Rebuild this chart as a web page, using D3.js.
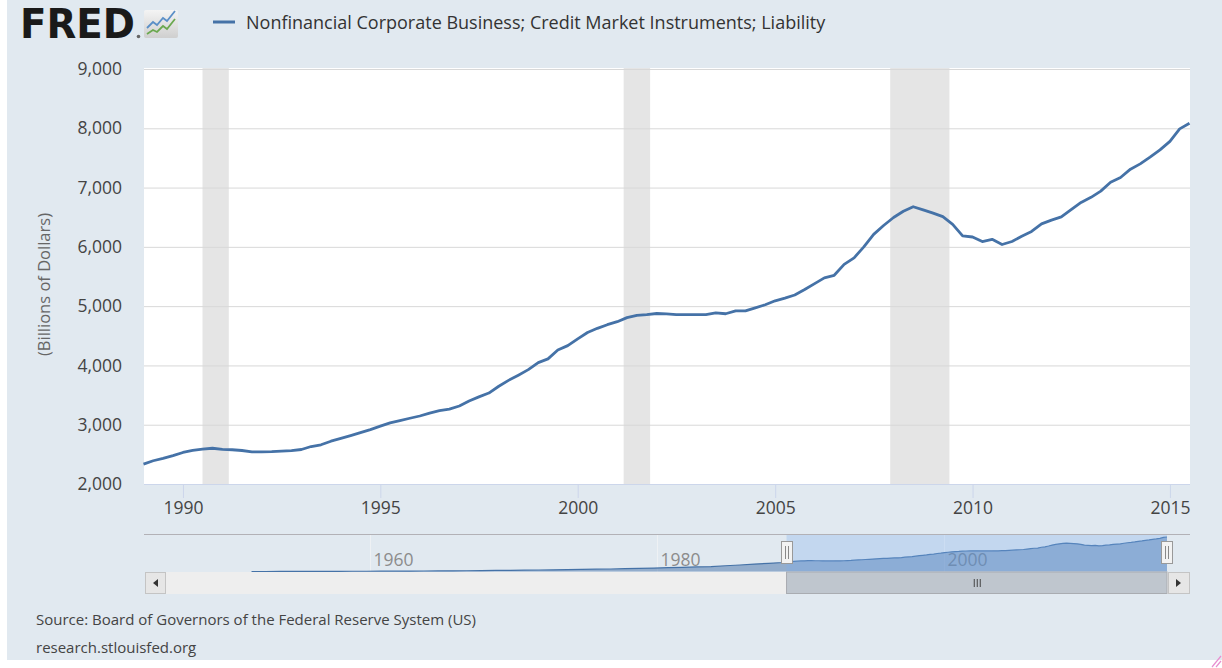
<!DOCTYPE html>
<html>
<head>
<meta charset="utf-8">
<script src="https://cdn.jsdelivr.net/npm/d3@7"></script>
<style>
	body { margin: 0; background: #fff; }
	svg { display: block; font-family: "Open Sans", sans-serif; }
</style>
</head>
<body>
<div id="chart"></div>
<script>
const SERIES_NAME = 'Nonfinancial Corporate Business; Credit Market Instruments; Liability';
const Y_LABEL = '(Billions of Dollars)';
const SOURCE_TEXT = 'Source: Board of Governors of the Federal Reserve System (US)';
const SITE_TEXT = 'research.stlouisfed.org';

// quarterly values, 1989 Q1 .. 2015 Q3 (billions of dollars)
const FIRST_QUARTER = '1989-01-01';
const liability = [
	2335, 2392, 2431, 2478, 2532, 2566, 2590, 2603, 2584, 2578,
	2565, 2542, 2543, 2546, 2554, 2563, 2582, 2632, 2662, 2722,
	2770, 2816, 2866, 2918, 2975, 3031, 3070, 3109, 3147, 3197,
	3237, 3262, 3315, 3400, 3470, 3534, 3649, 3748, 3836, 3929,
	4048, 4110, 4260, 4334, 4448, 4555, 4626, 4687, 4738, 4807,
	4846, 4858, 4876, 4871, 4856, 4856, 4858, 4858, 4886, 4872,
	4920, 4921, 4972, 5023, 5090, 5136, 5188, 5280, 5380, 5477,
	5520, 5705, 5815, 6000, 6210, 6360, 6495, 6600, 6677, 6625,
	6570, 6510, 6380, 6185, 6166, 6090, 6127, 6040, 6090, 6180,
	6260, 6388, 6450, 6506, 6630, 6750, 6835, 6940, 7090, 7170,
	7310, 7400, 7513, 7635, 7780, 7990, 8085
];

// earlier history, only seen in the navigator (4th quarter of each year)
const historyYears = [
	1951, 1952, 1953, 1954, 1955, 1956, 1957, 1958, 1959, 1960,
	1961, 1962, 1963, 1964, 1965, 1966, 1967, 1968, 1969, 1970,
	1971, 1972, 1973, 1974, 1975, 1976, 1977, 1978, 1979, 1980,
	1981, 1982, 1983, 1984, 1985, 1986, 1987, 1988
];
const historyValues = [
	90, 95, 99, 103, 113, 123, 134, 143, 153, 163,
	175, 188, 202, 218, 242, 268, 299, 335, 373, 405,
	442, 485, 540, 600, 620, 668, 736, 810, 888, 965,
	1068, 1142, 1240, 1425, 1600, 1805, 1975, 2175
];

const recessions = [
	['1990-07-01', '1991-03-01'],
	['2001-03-01', '2001-11-01'],
	['2007-12-01', '2009-06-01']
];

const yTicks = [2000, 3000, 4000, 5000, 6000, 7000, 8000, 9000];
const xTickYears = [1990, 1995, 2000, 2005, 2010, 2015];
const navTickYears = [1960, 1980, 2000];

const WIDTH = 1222, HEIGHT = 668;
const PLOT = { LEFT: 144, RIGHT: 1190, TOP: 69, BOTTOM: 484 };
const NAV = { LEFT: 165.4, RIGHT: 1167, TOP: 535, BOTTOM: 571.5 };
const LINE_COLOR = '#4572a7';

const parse = d3.timeParse('%Y-%m-%d');
const start = parse(FIRST_QUARTER);
const mainData = liability.map((v, i) => ({ date: d3.timeMonth.offset(start, i * 3), value: v }));
const navData = historyYears.map((y, i) => ({ date: new Date(y, 9, 1), value: historyValues[i] }))
	.concat(mainData);

const svg = d3.select('#chart').append('svg')
	.attr('width', WIDTH)
	.attr('height', HEIGHT);

// panel background
svg.append('rect')
	.attr('x', 7).attr('y', 0)
	.attr('width', WIDTH - 7).attr('height', 660)
	.attr('fill', '#e1e9f0');

// ---- header: logo + legend
const logo = svg.append('g');
logo.append('text')
	.attr('x', 20).attr('y', 38)
	.attr('font-family', '"DejaVu Sans", sans-serif')
	.attr('font-weight', 'bold')
	.attr('font-size', 41)
	.attr('textLength', 115)
	.attr('lengthAdjust', 'spacingAndGlyphs')
	.attr('fill', '#1a1a1a')
	.text('FRED');
logo.append('circle').attr('cx', 138.5).attr('cy', 36.5).attr('r', 1.8).attr('fill', '#666');
const grad = svg.append('defs').append('linearGradient')
	.attr('id', 'logoBg').attr('x1', 0).attr('y1', 0).attr('x2', 0).attr('y2', 1);
grad.append('stop').attr('offset', '0%').attr('stop-color', '#f4f4f4');
grad.append('stop').attr('offset', '100%').attr('stop-color', '#cfcfcf');
logo.append('rect')
	.attr('x', 144).attr('y', 10).attr('width', 34).attr('height', 28)
	.attr('rx', 2).attr('fill', 'url(#logoBg)');
logo.append('path')
	.attr('d', 'M147,28 L153,22 L157,25 L163,18 L167,21 L175,11')
	.attr('fill', 'none').attr('stroke', '#5b8fc7').attr('stroke-width', 1.8);
logo.append('path')
	.attr('d', 'M147,34 L153,30 L157,32 L163,26 L167,29 L175,19')
	.attr('fill', 'none').attr('stroke', '#6aa84f').attr('stroke-width', 1.8);

svg.append('line')
	.attr('x1', 213).attr('x2', 235).attr('y1', 22).attr('y2', 22)
	.attr('stroke', LINE_COLOR).attr('stroke-width', 3);
svg.append('text')
	.attr('x', 246).attr('y', 28.5)
	.attr('font-size', 18)
	.attr('fill', '#333')
	.text(SERIES_NAME);

// ---- main chart
const x = d3.scaleTime()
	.domain([mainData[0].date, mainData[mainData.length - 1].date])
	.range([PLOT.LEFT - 0.5, PLOT.RIGHT - 0.5]);

const y = d3.scaleLinear()
	.domain([2000, 9000])
	.range([PLOT.BOTTOM, PLOT.TOP]);

svg.append('rect')
	.attr('x', PLOT.LEFT).attr('y', PLOT.TOP - 1)
	.attr('width', PLOT.RIGHT - PLOT.LEFT).attr('height', PLOT.BOTTOM - PLOT.TOP + 1)
	.attr('fill', '#fff');

svg.append('g').selectAll('rect')
	.data(recessions)
	.enter().append('rect')
		.attr('x', d => x(parse(d[0])))
		.attr('width', d => x(parse(d[1])) - x(parse(d[0])))
		.attr('y', PLOT.TOP - 1)
		.attr('height', PLOT.BOTTOM - PLOT.TOP + 1)
		.attr('fill', '#e5e5e5');

const yAxisCall = d3.axisLeft(y)
	.tickValues(yTicks)
	.tickSize(-(PLOT.RIGHT - PLOT.LEFT))
	.tickPadding(22)
	.tickFormat(d3.format(','));
const yAxisGroup = svg.append('g')
	.attr('transform', `translate(${PLOT.LEFT}, 0)`)
	.call(yAxisCall);
yAxisGroup.select('.domain').remove();
yAxisGroup.selectAll('line').attr('stroke', '#d8d8d8');
yAxisGroup.selectAll('text')
	.attr('font-family', '"Open Sans", sans-serif')
	.attr('font-size', 17.5)
	.attr('fill', '#444');

const xAxisCall = d3.axisBottom(x)
	.tickValues(xTickYears.map(yr => new Date(yr, 0, 1)))
	.tickSize(14)
	.tickSizeOuter(0)
	.tickPadding(4)
	.tickFormat(d3.timeFormat('%Y'));
const xAxisGroup = svg.append('g')
	.attr('transform', `translate(0, ${PLOT.BOTTOM})`)
	.call(xAxisCall);
xAxisGroup.select('.domain').attr('stroke', '#ccd6eb');
xAxisGroup.selectAll('line').attr('stroke', '#ccd6eb');
xAxisGroup.selectAll('text')
	.attr('font-family', '"Open Sans", sans-serif')
	.attr('font-size', 17.5)
	.attr('fill', '#444');

svg.append('text')
	.attr('transform', `translate(50, ${(PLOT.TOP + PLOT.BOTTOM) / 2 + 8}) rotate(-90)`)
	.attr('text-anchor', 'middle')
	.attr('font-size', 16.5)
	.attr('fill', '#666')
	.text(Y_LABEL);

const line = d3.line()
	.x(d => x(d.date))
	.y(d => y(d.value));

svg.append('path')
	.datum(mainData)
	.attr('d', line)
	.attr('fill', 'none')
	.attr('stroke', LINE_COLOR)
	.attr('stroke-width', 2.8)
	.attr('stroke-linejoin', 'round');

// ---- navigator
const nx = d3.scaleTime()
	.domain([new Date(1945, 9, 1), mainData[mainData.length - 1].date])
	.range([NAV.LEFT, NAV.RIGHT]);
const ny = d3.scaleLinear()
	.domain([d3.min(navData, d => d.value), d3.max(navData, d => d.value)])
	.range([NAV.BOTTOM, NAV.TOP + 2]);

const navGrid = svg.append('g').selectAll('g')
	.data(navTickYears)
	.enter().append('g')
		.attr('transform', d => `translate(${Math.round(nx(new Date(d, 0, 1))) + 0.5}, 0)`);
navGrid.append('line')
	.attr('y1', NAV.TOP).attr('y2', NAV.BOTTOM)
	.attr('stroke', '#eef1f4');

const area = d3.area()
	.x(d => nx(d.date))
	.y0(NAV.BOTTOM)
	.y1(d => ny(d.value));
svg.append('path')
	.datum(navData)
	.attr('d', area)
	.attr('fill', LINE_COLOR)
	.attr('fill-opacity', 0.5);
svg.append('path')
	.datum(navData)
	.attr('d', d3.line().x(d => nx(d.date)).y(d => ny(d.value)))
	.attr('fill', 'none')
	.attr('stroke', LINE_COLOR)
	.attr('stroke-width', 1.2);

navGrid.append('text')
	.attr('x', 3).attr('y', 566)
	.attr('font-size', 17.5)
	.attr('fill', '#8c8c8c')
	.text(d => d);

const selLeft = nx(mainData[0].date);
const selRight = nx(mainData[mainData.length - 1].date);
svg.append('rect')
	.attr('x', selLeft).attr('y', NAV.TOP)
	.attr('width', selRight - selLeft).attr('height', NAV.BOTTOM - NAV.TOP)
	.attr('fill', 'rgb(125,175,240)')
	.attr('fill-opacity', 0.3);

svg.append('line')
	.attr('x1', PLOT.LEFT).attr('x2', PLOT.RIGHT)
	.attr('y1', NAV.TOP - 0.5).attr('y2', NAV.TOP - 0.5)
	.attr('stroke', '#b2b1b6');

// scrollbar
const SB_TOP = 572, SB_H = 22;
svg.append('rect')
	.attr('x', 145).attr('y', SB_TOP).attr('width', 1045).attr('height', SB_H)
	.attr('fill', '#eeeeee');
svg.append('rect')
	.attr('x', selLeft).attr('y', SB_TOP).attr('width', selRight - selLeft).attr('height', SB_H - 0.5)
	.attr('fill', '#bfc6ce').attr('stroke', '#a9acb1');
const gripX = (selLeft + selRight) / 2;
[-3, 0, 3].forEach(dx => {
	svg.append('line')
		.attr('x1', gripX + dx + 0.5).attr('x2', gripX + dx + 0.5)
		.attr('y1', SB_TOP + 7).attr('y2', SB_TOP + 15)
		.attr('stroke', '#444');
});
svg.append('rect')
	.attr('x', 145.5).attr('y', SB_TOP + 0.5).attr('width', 20).attr('height', SB_H - 1)
	.attr('fill', '#e6e6e6').attr('stroke', '#c4c4c4');
svg.append('path')
	.attr('d', `M158,${SB_TOP + 7} L153,${SB_TOP + 11} L158,${SB_TOP + 15} Z`)
	.attr('fill', '#333');
svg.append('rect')
	.attr('x', 1168.5).attr('y', SB_TOP + 0.5).attr('width', 21).attr('height', SB_H - 1)
	.attr('fill', '#e6e6e6').attr('stroke', '#c4c4c4');
svg.append('path')
	.attr('d', `M1176,${SB_TOP + 7} L1181,${SB_TOP + 11} L1176,${SB_TOP + 15} Z`)
	.attr('fill', '#333');

// navigator handles
[selLeft, selRight].forEach(hx => {
	const g = svg.append('g').attr('transform', `translate(${Math.round(hx)}, 0)`);
	g.append('rect')
		.attr('x', -5.5).attr('y', 541.5).attr('width', 11).attr('height', 22)
		.attr('fill', '#f2f2f2').attr('stroke', '#999');
	[-1.5, 1.5].forEach(dx => {
		g.append('line')
			.attr('x1', dx).attr('x2', dx)
			.attr('y1', 546).attr('y2', 559)
			.attr('stroke', '#888');
	});
});

// ---- footer
svg.append('text')
	.attr('x', 36).attr('y', 625)
	.attr('font-size', 15)
	.attr('fill', '#444')
	.text(SOURCE_TEXT);
svg.append('text')
	.attr('x', 36).attr('y', 653)
	.attr('font-size', 15)
	.attr('fill', '#444')
	.text(SITE_TEXT);

// resize grip
[[1212, 667, 1221, 656], [1216, 667, 1221, 661]].forEach(p => {
	svg.append('line')
		.attr('x1', p[0]).attr('y1', p[1]).attr('x2', p[2]).attr('y2', p[3])
		.attr('stroke', '#e78fd0').attr('stroke-width', 1.2);
});
</script>
</body>
</html>
